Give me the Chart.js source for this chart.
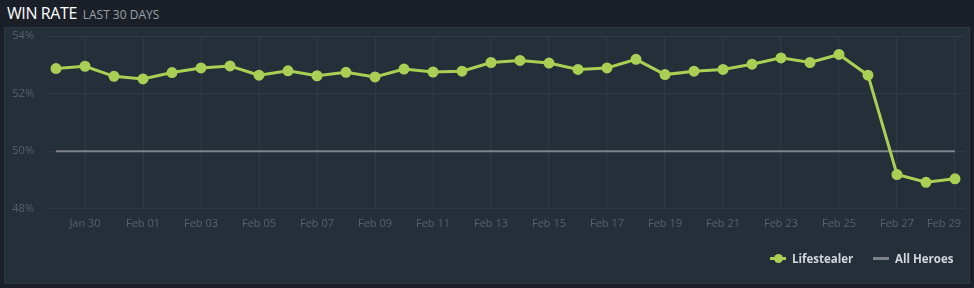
<!DOCTYPE html>
<html>
<head>
<meta charset="utf-8">
<script src="https://cdn.jsdelivr.net/npm/chart.js@4"></script>
<style>
  html, body { margin: 0; padding: 0; background: #1b2028; width: 974px; height: 288px; overflow: hidden; }
  #title { position: absolute; left: 7px; top: 2px; font-family: "Open Sans", sans-serif; color: #ffffff; font-size: 16px; letter-spacing: -0.4px; white-space: nowrap; }
  #title span { color: #98a1a9; font-size: 12px; letter-spacing: 0; margin-left: 2px; }
  #panel { position: absolute; left: 4px; top: 27px; width: 964px; height: 255px; background: #242f39; border: 1px solid #2b3742; }
  #wrap { position: absolute; left: 0; top: 0; width: 974px; height: 288px; }
  .leg { position: absolute; top: 251px; font-family: "Open Sans", sans-serif; font-weight: bold; font-size: 11.5px; color: #d3d7db; white-space: nowrap; }
  .sym { display: inline-block; position: relative; width: 16px; height: 3px; vertical-align: middle; margin-right: 6px; top: -1px; }
  .sym i { position: absolute; left: 4px; top: -3px; width: 9px; height: 9px; border-radius: 50%; background: #a9cf54; }
</style>
</head>
<body>
<div id="title">WIN RATE <span>LAST 30 DAYS</span></div>
<div id="panel"></div>
<div id="wrap"><canvas id="c"></canvas></div>
<div class="leg" style="left:770px"><span class="sym" style="background:#a9cf54"><i></i></span>Lifestealer</div>
<div class="leg" style="left:873px"><span class="sym" style="background:#7c8288"></span>All Heroes</div>
<script>
  const days = ['Jan 29', 'Jan 30', 'Jan 31', 'Feb 01', 'Feb 02', 'Feb 03', 'Feb 04', 'Feb 05',
    'Feb 06', 'Feb 07', 'Feb 08', 'Feb 09', 'Feb 10', 'Feb 11', 'Feb 12', 'Feb 13', 'Feb 14',
    'Feb 15', 'Feb 16', 'Feb 17', 'Feb 18', 'Feb 19', 'Feb 20', 'Feb 21', 'Feb 22', 'Feb 23',
    'Feb 24', 'Feb 25', 'Feb 26', 'Feb 27', 'Feb 28', 'Feb 29'];
  const lifestealer = [52.87, 52.95, 52.60, 52.51, 52.73, 52.89, 52.96, 52.64, 52.79, 52.62,
    52.74, 52.58, 52.85, 52.75, 52.78, 53.08, 53.15, 53.06, 52.84, 52.89, 53.19, 52.66,
    52.78, 52.84, 53.02, 53.24, 53.08, 53.36, 52.64, 49.19, 48.92, 49.04];
  const allHeroes = days.map(() => 50);
  const yTicks = [48, 50, 52, 54];
  const xTickIdx = [1, 3, 5, 7, 9, 11, 13, 15, 17, 19, 21, 23, 25, 27, 29, 31];

  new Chart(document.getElementById('c'), {
    type: 'line',
    data: {
      datasets: [{
        label: 'Lifestealer',
        data: lifestealer.map((v, i) => ({ x: i, y: v })),
        borderColor: '#a9cf54',
        backgroundColor: '#a9cf54',
        borderWidth: 3,
        pointRadius: 4,
        pointHoverRadius: 5,
        tension: 0
      }, {
        label: 'All Heroes',
        data: allHeroes.map((v, i) => ({ x: i, y: v })),
        borderColor: '#7c8288',
        borderWidth: 2,
        pointRadius: 0,
        tension: 0
      }]
    },
    options: {
      responsive: true,
      maintainAspectRatio: false,
      animation: false,
      layout: { padding: { left: 12, right: 9, top: 36, bottom: 50 } },
      plugins: {
        legend: { display: false },
        tooltip: { enabled: false }
      },
      scales: {
        x: {
          type: 'linear',
          min: -0.276,
          max: 31.345,
          afterBuildTicks: function(axis) {
            axis.ticks = xTickIdx.map(v => ({ value: v }));
          },
          afterFit: function(axis) { axis.paddingLeft = 0; axis.paddingRight = 0; },
          grid: { color: '#2e3a45', drawTicks: false },
          border: { display: false },
          ticks: {
            color: '#56616b',
            font: { family: 'Open Sans', size: 11 },
            padding: 8,
            maxRotation: 0,
            autoSkip: false,
            callback: function(value) {
              // last label is pushed inside the panel, like the original
              return value === days.length - 1 ? days[value] + '\u2002\u2002\u2002\u2002' : days[value];
            }
          }
        },
        y: {
          min: 48,
          max: 54,
          afterBuildTicks: function(axis) {
            axis.ticks = yTicks.map(v => ({ value: v }));
          },
          afterFit: function(axis) { axis.width = 36; },
          grid: { color: '#2e3a45', drawTicks: false },
          border: { display: false },
          ticks: {
            color: '#56616b',
            font: { family: 'Open Sans', size: 11 },
            padding: 14,
            callback: function(value) { return value + '%'; }
          }
        }
      }
    }
  });
</script>
</body>
</html>
